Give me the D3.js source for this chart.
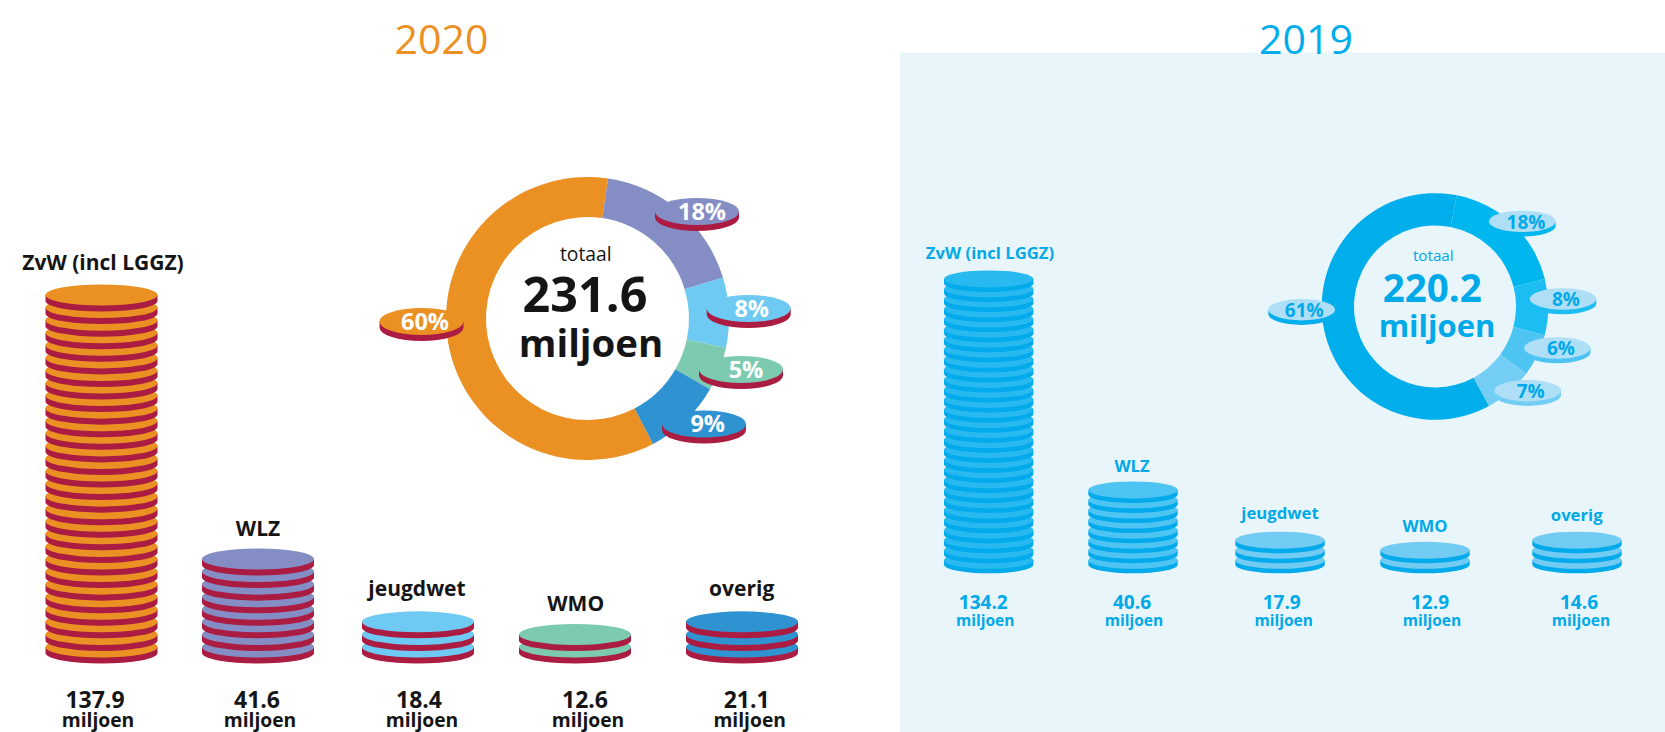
<!DOCTYPE html>
<html>
<head>
<meta charset="utf-8">
<script src="https://cdn.jsdelivr.net/npm/d3@7/dist/d3.min.js"></script>
<style>
html,body{margin:0;padding:0;background:#fff;overflow:hidden}
svg{display:block}
text{font-family:"Open Sans",sans-serif}
</style>
</head>
<body>
<svg id="chart" width="1665" height="732"></svg>
<script>
// ---- data ----
const categories = ["ZvW (incl LGGZ)", "WLZ", "jeugdwet", "WMO", "overig"];
const values2020 = [137.9, 41.6, 18.4, 12.6, 21.1];
const values2019 = [134.2, 40.6, 17.9, 12.9, 14.6];
const coins2020 = [29, 8, 3, 2, 3];
const coins2019 = [29, 8, 3, 2, 3];
const percent2020 = [60, 18, 8, 5, 9];
const percent2019 = [61, 18, 8, 6, 7];
const total2020 = "231.6";
const total2019 = "220.2";
const unit = "miljoen";
const totalWord = "totaal";

// ---- layout and style, separate from the data ----
const layout2020 = {
  title: "2020", titleX: 441.5, titleColor: "#EB9022",
  values: values2020, coins: coins2020, percents: percent2020, total: total2020,
  colors: ["#EB9022", "#858EC4", "#6EC9F3", "#7CCBB0", "#2F93D1"],
  rims: ["#AB1C42", "#AB1C42", "#AB1C42", "#AB1C42", "#AB1C42"],
  stackX: [101.5, 258, 418, 575, 742],
  coinRx: 56, coinRy: 10.5, coinRim: 6, coinStep: 12.57, stackBottom: 663.5,
  catX: [103, 258, 417, 575.7, 741.7], catY: [270, 536, 596, 610.7, 596], catSize: 21, catColor: "#151515",
  valX: [95, 257, 419, 585, 746.7], valY: 708, valSize: 23, unitOffsetX: 3, unitY: 726.5, unitSize: 19.3, textColor: "#151515",
  donut: {cx: 587.5, cy: 318.5, outer: 141.5, inner: 101.5, start: 152.4},
  call: {x: [421.5, 697, 748.7, 741, 704], y: [321.5, 211.5, 308.5, 369.5, 424], rx: 42, ry: 13.5, rim: 6,
    lx: [425, 702, 751.7, 746, 707.7], ly: [330, 220, 316.7, 378.3, 431.7], size: 23.5,
    top: null, rimColor: "#AB1C42", text: "#fff"},
  center: {tx: 585.8, ty: 260.7, tSize: 19.3, vx: 585, vy: 311.7, vSize: 48.5, ux: 591, uy: 356.7, uSize: 38.4, color: "#151515", tColor: "#151515"}
};
const layout2019 = {
  title: "2019", titleX: 1306, titleColor: "#00AEEB",
  values: values2019, coins: coins2019, percents: percent2019, total: total2019,
  colors: ["#00AEEB", "#00B6EF", "#1CBDF3", "#4EC4F2", "#73CDF4"],
  topColors: ["#27B9F0", "#4EC4F2", "#71CBF3", "#71CBF3", "#71CBF3"],
  rims: ["#00AAEB", "#00AAEB", "#00AAEB", "#00AAEB", "#00AAEB"],
  stackX: [988.7, 1133, 1280, 1425, 1577],
  coinRx: 44.7, coinRy: 8.5, coinRim: 4.5, coinStep: 10.05, stackBottom: 573.3,
  catX: [990, 1132, 1280, 1425, 1576.7], catY: [259, 472, 519, 531.7, 521], catSize: 16.7, catColor: "#00A9E8",
  valX: [983.3, 1132, 1281.7, 1430, 1579], valY: 609, valSize: 19, unitOffsetX: 2, unitY: 626, unitSize: 15.5, textColor: "#00A9E8",
  donut: {cx: 1435, cy: 306.5, outer: 113.3, inner: 81, start: 151.5},
  call: {x: [1301.7, 1522.3, 1563, 1557.3, 1527.7], y: [309.7, 221.4, 299, 348, 390.7], rx: 33.3, ry: 10.7, rim: 4.5,
    lx: [1304.3, 1526, 1566, 1561, 1530.7], ly: [316.7, 229.3, 306, 355, 397.7], size: 19,
    top: "#AEDFF7", rimColor: null, text: "#00A9E8"},
  center: {tx: 1433.3, ty: 260.7, tSize: 15.2, vx: 1432.3, vy: 301.7, vSize: 38.5, ux: 1437, uy: 336.7, uSize: 31, color: "#00A9E8", tColor: "#00A9E8"}
};

const svg = d3.select("#chart");
svg.append("rect").attr("x", 900).attr("y", 52.7).attr("width", 765).attr("height", 680).attr("fill", "#E8F5FB");

// a coin: rim body plus its top face
function coin(g, cx, cy, rx, ry, rim, top, side) {
  g.append("path")
    .attr("d", `M${cx - rx},${cy}V${cy + rim}A${rx},${ry} 0 0 0 ${cx + rx},${cy + rim}V${cy}Z`)
    .attr("fill", side);
  g.append("ellipse").attr("cx", cx).attr("cy", cy).attr("rx", rx).attr("ry", ry).attr("fill", top);
}

function drawPanel(L) {
  const g = svg.append("g");
  g.append("text").text(L.title).attr("x", L.titleX).attr("y", 54).attr("text-anchor", "middle")
    .attr("font-size", 41).attr("fill", L.titleColor);

  // stacks of coins
  const x = d3.scaleOrdinal().domain(categories).range(L.stackX);
  const y = d3.scaleLinear().domain([0, 1])
    .range([L.stackBottom - L.coinRy - L.coinRim, L.stackBottom - L.coinRy - L.coinRim - L.coinStep]);
  categories.forEach((c, i) => {
    const stack = g.append("g").attr("class", "stack");
    d3.range(L.coins[i]).forEach(k => {
      coin(stack, x(c), y(k), L.coinRx, L.coinRy, L.coinRim, (L.topColors || L.colors)[i], L.rims[i]);
    });
    g.append("text").text(c).attr("x", L.catX[i]).attr("y", L.catY[i]).attr("text-anchor", "middle")
      .attr("font-weight", 700).attr("font-size", L.catSize).attr("fill", L.catColor);
    g.append("text").text(d3.format(".1f")(L.values[i])).attr("x", L.valX[i]).attr("y", L.valY).attr("text-anchor", "middle")
      .attr("font-weight", 700).attr("font-size", L.valSize).attr("fill", L.textColor);
    g.append("text").text(unit).attr("x", L.valX[i] + L.unitOffsetX).attr("y", L.unitY).attr("text-anchor", "middle")
      .attr("font-weight", 700).attr("font-size", L.unitSize).attr("fill", L.textColor);
  });

  // donut
  const D = L.donut;
  const a0 = D.start * Math.PI / 180;
  const pie = d3.pie().sort(null).startAngle(a0).endAngle(a0 + 2 * Math.PI);
  const arc = d3.arc().innerRadius(D.inner).outerRadius(D.outer);
  const donut = g.append("g").attr("transform", `translate(${D.cx},${D.cy})`);
  donut.selectAll("path").data(pie(L.percents)).join("path")
    .attr("d", arc).attr("fill", (d, i) => L.colors[i]);

  // coin-shaped percentage labels
  const C = L.call;
  L.percents.forEach((p, i) => {
    coin(g, C.x[i], C.y[i], C.rx, C.ry, C.rim, C.top || L.colors[i], C.rimColor || L.colors[i]);
    g.append("text").text(p + "%").attr("x", C.lx[i]).attr("y", C.ly[i]).attr("text-anchor", "middle")
      .attr("font-weight", 700).attr("font-size", C.size).attr("fill", C.text);
  });

  // centre text
  const T = L.center;
  g.append("text").text(totalWord).attr("x", T.tx).attr("y", T.ty).attr("text-anchor", "middle")
    .attr("font-size", T.tSize).attr("fill", T.tColor);
  g.append("text").text(L.total).attr("x", T.vx).attr("y", T.vy).attr("text-anchor", "middle")
    .attr("font-weight", 700).attr("font-size", T.vSize).attr("fill", T.color);
  g.append("text").text(unit).attr("x", T.ux).attr("y", T.uy).attr("text-anchor", "middle")
    .attr("font-weight", 700).attr("font-size", T.uSize).attr("fill", T.color);
}

drawPanel(layout2020);
drawPanel(layout2019);
</script>
</body>
</html>
